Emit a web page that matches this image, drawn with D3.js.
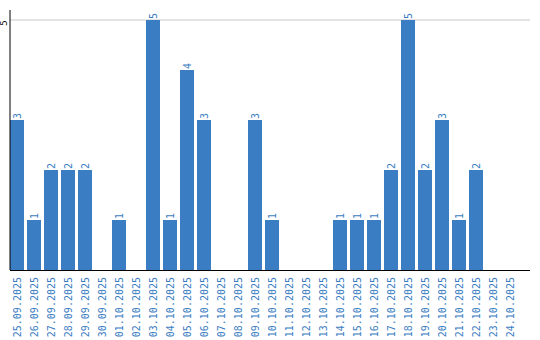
<!DOCTYPE html>
<html>
<head>
<meta charset="utf-8">
<title>chart</title>
<style>
body { margin: 0; background: #fff; }
</style>
</head>
<body>
<div id="chart"></div>
<script src="https://cdn.jsdelivr.net/npm/d3@7"></script>
<script>
var dates = ['25.09.2025','26.09.2025','27.09.2025','28.09.2025','29.09.2025','30.09.2025',
    '01.10.2025','02.10.2025','03.10.2025','04.10.2025','05.10.2025','06.10.2025','07.10.2025',
    '08.10.2025','09.10.2025','10.10.2025','11.10.2025','12.10.2025','13.10.2025','14.10.2025',
    '15.10.2025','16.10.2025','17.10.2025','18.10.2025','19.10.2025','20.10.2025','21.10.2025',
    '22.10.2025','23.10.2025','24.10.2025'];
var counts = [3,1,2,2,2,0,1,0,5,1,4,3,0,0,3,1,0,0,0,1,1,1,2,5,2,3,1,2,0,0];
var yTicks = [5];

var blue = '#3b7dc2';
var left = 10, top0 = 20, base = 270, right = 530;

var svg = d3.select('#chart')
    .append('svg')
    .attr('width', 540)
    .attr('height', 340);

var x = d3.scaleBand()
    .domain(dates)
    .range([left, left + 17 * 30 - 3])
    .paddingInner(3 / 17)
    .paddingOuter(0);

var y = d3.scaleLinear()
    .domain([0, 5])
    .range([base, top0]);

// gridline + tick label
yTicks.forEach(t => {
    svg.append('line')
        .attr('x1', left).attr('x2', right)
        .attr('y1', y(t)).attr('y2', y(t))
        .attr('stroke', '#c8c8c8');
    svg.append('text')
        .attr('transform', 'translate(7,' + (y(t) + 3) + ') rotate(-90)')
        .attr('text-anchor', 'middle')
        .style('font-family', 'DejaVu Sans Mono, monospace')
        .style('font-size', '9px')
        .attr('fill', '#000')
        .text(t);
});

svg.selectAll('rect.bar')
    .data(counts)
    .enter()
    .append('rect')
    .attr('class', 'bar')
    .attr('x', (d, i) => x(dates[i]))
    .attr('y', d => y(d))
    .attr('width', x.bandwidth())
    .attr('height', d => base - y(d))
    .attr('fill', blue);

// value labels
counts.forEach((d, i) => {
    if (d <= 0) return;
    svg.append('text')
        .attr('transform', 'translate(' + (x(dates[i]) + x.bandwidth() / 2 + 3.5) + ',' + (y(d) - 1) + ') rotate(-90)')
        .attr('text-anchor', 'start')
        .style('font-family', 'DejaVu Sans Mono, monospace')
        .style('font-size', '10px')
        .attr('fill', blue)
        .text(d);
});

// x labels
dates.forEach((d, i) => {
    svg.append('text')
        .attr('transform', 'translate(' + (x(d) + x.bandwidth() / 2 + 3.5) + ',' + (base + 7) + ') rotate(-90)')
        .attr('text-anchor', 'end')
        .style('font-family', 'DejaVu Sans Mono, monospace')
        .style('font-size', '10px')
        .attr('fill', blue)
        .text(d);
});

// axes
svg.append('line')
    .attr('x1', left).attr('x2', left)
    .attr('y1', 10).attr('y2', base)
    .attr('stroke', '#000').attr('stroke-width', 1);
svg.append('line')
    .attr('x1', left).attr('x2', right)
    .attr('y1', base + 0.5).attr('y2', base + 0.5)
    .attr('stroke', '#000').attr('stroke-width', 1);
</script>
</body>
</html>
